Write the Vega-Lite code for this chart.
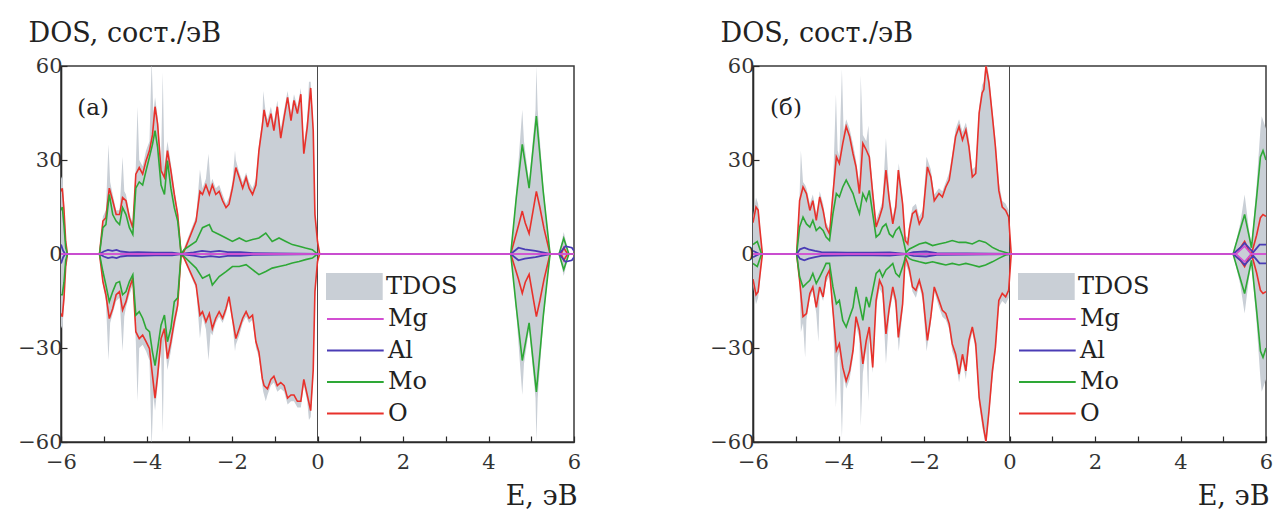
{
"$schema": "https://vega.github.io/schema/vega-lite/v6.json",
"background": "white",
"padding": {"left": 16, "top": 18, "right": 0, "bottom": 0},
"spacing": 126,
"config": {
 "view": {"stroke": "#3a3a3a", "strokeWidth": 1.5},
 "font": "DejaVu Serif",
 "text": {"font": "DejaVu Serif"},
 "axis": {"grid": false, "domainColor": "#2a2a2a", "domainWidth": 1.6, "tickColor": "#2a2a2a", "tickSize": -6, "tickWidth": 1.2, "labelFont": "DejaVu Serif", "labelFontSize": 21, "labelColor": "#333", "labelPadding": 5, "titleFont": "DejaVu Serif", "titleFontSize": 27, "titleFontWeight": "normal", "titleColor": "#222"},
 "axisX": {"labelPadding": 15},
 "legend": {"orient": "none", "symbolSize": 729, "labelFont": "DejaVu Serif", "labelFontSize": 24, "labelColor": "#222", "labelOffset": 33, "rowPadding": 4.5, "padding": 0, "symbolStrokeWidth": 2, "symbolOpacity": 1}
},
"resolve": {"legend": {"fill": "independent", "stroke": "independent"}, "scale": {"fill": "independent", "stroke": "independent"}},
"datasets": {
 "a": [
  {"el":"TDOS","E":-6.00,"u":24,"d":-23},{"el":"TDOS","E":-5.97,"u":25,"d":-24},{"el":"TDOS","E":-5.93,"u":17,"d":-17},{"el":"TDOS","E":-5.89,"u":5,"d":-5},{"el":"TDOS","E":-5.85,"u":0,"d":0},{"el":"TDOS","E":-5.10,"u":0,"d":0},
  {"el":"TDOS","E":-5.02,"u":12,"d":-10},{"el":"TDOS","E":-4.95,"u":14,"d":-15},{"el":"TDOS","E":-4.89,"u":35,"d":-34},{"el":"TDOS","E":-4.85,"u":23,"d":-22},{"el":"TDOS","E":-4.79,"u":19,"d":-19},{"el":"TDOS","E":-4.71,"u":14,"d":-15},{"el":"TDOS","E":-4.63,"u":14,"d":-14},{"el":"TDOS","E":-4.56,"u":31,"d":-31},{"el":"TDOS","E":-4.52,"u":20,"d":-20},{"el":"TDOS","E":-4.48,"u":19,"d":-17},{"el":"TDOS","E":-4.40,"u":13,"d":-13},{"el":"TDOS","E":-4.32,"u":10,"d":-10},{"el":"TDOS","E":-4.25,"u":28,"d":-28},{"el":"TDOS","E":-4.21,"u":47,"d":-47},{"el":"TDOS","E":-4.17,"u":30,"d":-30},{"el":"TDOS","E":-4.09,"u":28,"d":-29},{"el":"TDOS","E":-4.01,"u":33,"d":-31},{"el":"TDOS","E":-3.93,"u":36,"d":-34},{"el":"TDOS","E":-3.88,"u":62,"d":-62},{"el":"TDOS","E":-3.84,"u":45,"d":-45},{"el":"TDOS","E":-3.80,"u":50,"d":-50},{"el":"TDOS","E":-3.74,"u":44,"d":-42},{"el":"TDOS","E":-3.66,"u":29,"d":-30},{"el":"TDOS","E":-3.62,"u":58,"d":-57},{"el":"TDOS","E":-3.58,"u":28,"d":-27},{"el":"TDOS","E":-3.51,"u":36,"d":-37},{"el":"TDOS","E":-3.43,"u":29,"d":-31},{"el":"TDOS","E":-3.35,"u":21,"d":-24},{"el":"TDOS","E":-3.27,"u":14,"d":-18},{"el":"TDOS","E":-3.19,"u":0,"d":0},
  {"el":"TDOS","E":-3.12,"u":2,"d":-2},{"el":"TDOS","E":-2.84,"u":12,"d":-11},{"el":"TDOS","E":-2.75,"u":27,"d":-27},{"el":"TDOS","E":-2.69,"u":21,"d":-20},{"el":"TDOS","E":-2.61,"u":24,"d":-24},{"el":"TDOS","E":-2.55,"u":32,"d":-34},{"el":"TDOS","E":-2.50,"u":22,"d":-25},{"el":"TDOS","E":-2.46,"u":24,"d":-26},{"el":"TDOS","E":-2.38,"u":21,"d":-22},{"el":"TDOS","E":-2.30,"u":22,"d":-20},{"el":"TDOS","E":-2.22,"u":19,"d":-22},{"el":"TDOS","E":-2.14,"u":16,"d":-19},{"el":"TDOS","E":-2.07,"u":18,"d":-15},{"el":"TDOS","E":-1.99,"u":23,"d":-22},{"el":"TDOS","E":-1.93,"u":33,"d":-31},{"el":"TDOS","E":-1.91,"u":30,"d":-29},{"el":"TDOS","E":-1.83,"u":26,"d":-26},{"el":"TDOS","E":-1.75,"u":23,"d":-22},{"el":"TDOS","E":-1.67,"u":26,"d":-20},{"el":"TDOS","E":-1.60,"u":23,"d":-22},{"el":"TDOS","E":-1.52,"u":21,"d":-21},{"el":"TDOS","E":-1.44,"u":24,"d":-30},{"el":"TDOS","E":-1.37,"u":35,"d":-33},{"el":"TDOS","E":-1.29,"u":43,"d":-42},{"el":"TDOS","E":-1.27,"u":52,"d":-44},{"el":"TDOS","E":-1.21,"u":45,"d":-47},{"el":"TDOS","E":-1.17,"u":43,"d":-45},{"el":"TDOS","E":-1.09,"u":47,"d":-42},{"el":"TDOS","E":-1.02,"u":42,"d":-41},{"el":"TDOS","E":-0.94,"u":49,"d":-44},{"el":"TDOS","E":-0.86,"u":40,"d":-43},{"el":"TDOS","E":-0.78,"u":46,"d":-44},{"el":"TDOS","E":-0.70,"u":52,"d":-48},{"el":"TDOS","E":-0.62,"u":45,"d":-47},{"el":"TDOS","E":-0.55,"u":51,"d":-47},{"el":"TDOS","E":-0.47,"u":47,"d":-49},{"el":"TDOS","E":-0.39,"u":53,"d":-49},{"el":"TDOS","E":-0.32,"u":35,"d":-42},{"el":"TDOS","E":-0.24,"u":43,"d":-47},{"el":"TDOS","E":-0.20,"u":55,"d":-53},{"el":"TDOS","E":-0.16,"u":55,"d":-52},{"el":"TDOS","E":-0.10,"u":42,"d":-40},{"el":"TDOS","E":-0.06,"u":15,"d":-14},{"el":"TDOS","E":0.00,"u":5,"d":-4},{"el":"TDOS","E":0.05,"u":0,"d":0},
  {"el":"TDOS","E":4.52,"u":0,"d":0},{"el":"TDOS","E":4.65,"u":20,"d":-19},{"el":"TDOS","E":4.79,"u":46,"d":-45},{"el":"TDOS","E":4.83,"u":36,"d":-35},{"el":"TDOS","E":4.95,"u":23,"d":-24},{"el":"TDOS","E":5.10,"u":46,"d":-46},{"el":"TDOS","E":5.12,"u":60,"d":-60},{"el":"TDOS","E":5.15,"u":46,"d":-46},{"el":"TDOS","E":5.28,"u":22,"d":-22},{"el":"TDOS","E":5.44,"u":0,"d":0},{"el":"TDOS","E":5.65,"u":0,"d":0},{"el":"TDOS","E":5.76,"u":7,"d":-7},{"el":"TDOS","E":5.88,"u":0,"d":0},{"el":"TDOS","E":6.00,"u":0,"d":0},

  {"el":"O","E":-6.00,"u":20,"d":-19},{"el":"O","E":-5.97,"u":21,"d":-20},{"el":"O","E":-5.93,"u":14,"d":-14},{"el":"O","E":-5.89,"u":4,"d":-4},{"el":"O","E":-5.85,"u":0,"d":0},{"el":"O","E":-5.10,"u":0,"d":0},
  {"el":"O","E":-5.02,"u":10.5,"d":-8.8},{"el":"O","E":-4.95,"u":11.6,"d":-13},{"el":"O","E":-4.87,"u":21,"d":-20.6},{"el":"O","E":-4.79,"u":17,"d":-17.4},{"el":"O","E":-4.71,"u":12.6,"d":-13},{"el":"O","E":-4.63,"u":12.6,"d":-12},{"el":"O","E":-4.56,"u":18,"d":-17.9},{"el":"O","E":-4.48,"u":17,"d":-15.2},{"el":"O","E":-4.40,"u":11.6,"d":-10.9},{"el":"O","E":-4.32,"u":8.4,"d":-7.7},{"el":"O","E":-4.25,"u":25.5,"d":-24.8},{"el":"O","E":-4.17,"u":27.6,"d":-27},{"el":"O","E":-4.09,"u":25.5,"d":-25.9},{"el":"O","E":-4.01,"u":29.8,"d":-28},{"el":"O","E":-3.93,"u":33,"d":-30.2},{"el":"O","E":-3.86,"u":38,"d":-38.8},{"el":"O","E":-3.80,"u":47,"d":-46},{"el":"O","E":-3.74,"u":41.5,"d":-38.8},{"el":"O","E":-3.66,"u":26.6,"d":-27},{"el":"O","E":-3.58,"u":24.4,"d":-23.8},{"el":"O","E":-3.51,"u":33,"d":-33.4},{"el":"O","E":-3.43,"u":26.6,"d":-28},{"el":"O","E":-3.35,"u":19,"d":-21.6},{"el":"O","E":-3.27,"u":12.6,"d":-16.3},{"el":"O","E":-3.19,"u":0,"d":0},
  {"el":"O","E":-3.12,"u":0.9,"d":-1.3},{"el":"O","E":-2.84,"u":10.5,"d":-9.9},{"el":"O","E":-2.75,"u":20,"d":-19.5},{"el":"O","E":-2.69,"u":19,"d":-18.4},{"el":"O","E":-2.61,"u":22,"d":-21.6},{"el":"O","E":-2.53,"u":19,"d":-19},{"el":"O","E":-2.46,"u":22,"d":-23.8},{"el":"O","E":-2.38,"u":19,"d":-20.5},{"el":"O","E":-2.30,"u":20,"d":-18.4},{"el":"O","E":-2.22,"u":17,"d":-20.5},{"el":"O","E":-2.14,"u":14.8,"d":-17.4},{"el":"O","E":-2.07,"u":15.9,"d":-13.6},{"el":"O","E":-1.99,"u":21,"d":-20.5},{"el":"O","E":-1.91,"u":27.6,"d":-27},{"el":"O","E":-1.83,"u":24.4,"d":-23.8},{"el":"O","E":-1.75,"u":21,"d":-20.5},{"el":"O","E":-1.67,"u":24.4,"d":-18.4},{"el":"O","E":-1.60,"u":21,"d":-20.5},{"el":"O","E":-1.52,"u":19,"d":-19.5},{"el":"O","E":-1.44,"u":22,"d":-28},{"el":"O","E":-1.37,"u":33,"d":-31.3},{"el":"O","E":-1.29,"u":41,"d":-39.8},{"el":"O","E":-1.25,"u":46,"d":-42},{"el":"O","E":-1.17,"u":40.5,"d":-43},{"el":"O","E":-1.09,"u":44.8,"d":-40},{"el":"O","E":-1.02,"u":39.4,"d":-39},{"el":"O","E":-0.94,"u":47,"d":-42},{"el":"O","E":-0.86,"u":37,"d":-41},{"el":"O","E":-0.78,"u":43.7,"d":-42},{"el":"O","E":-0.70,"u":50,"d":-46},{"el":"O","E":-0.62,"u":42.6,"d":-45},{"el":"O","E":-0.55,"u":49,"d":-45},{"el":"O","E":-0.47,"u":44.8,"d":-47},{"el":"O","E":-0.39,"u":51,"d":-47},{"el":"O","E":-0.32,"u":32,"d":-40},{"el":"O","E":-0.24,"u":40.5,"d":-45},{"el":"O","E":-0.16,"u":53,"d":-50},{"el":"O","E":-0.10,"u":39.4,"d":-37},{"el":"O","E":-0.06,"u":12.6,"d":-12},{"el":"O","E":0.00,"u":4,"d":-2.4},{"el":"O","E":0.05,"u":0,"d":0},
  {"el":"O","E":4.52,"u":0,"d":0},{"el":"O","E":4.70,"u":9,"d":-8},{"el":"O","E":4.79,"u":13.7,"d":-12.5},{"el":"O","E":4.86,"u":9.9,"d":-9},{"el":"O","E":4.95,"u":6.5,"d":-6.5},{"el":"O","E":5.12,"u":20,"d":-20},{"el":"O","E":5.20,"u":15,"d":-15},{"el":"O","E":5.30,"u":8,"d":-8},{"el":"O","E":5.44,"u":0,"d":0},{"el":"O","E":5.70,"u":0,"d":0},{"el":"O","E":5.76,"u":2,"d":-2},{"el":"O","E":5.85,"u":0,"d":0},{"el":"O","E":6.00,"u":0,"d":0},

  {"el":"Mo","E":-6.00,"u":14,"d":-13},{"el":"Mo","E":-5.97,"u":15,"d":-13},{"el":"Mo","E":-5.93,"u":9,"d":-9},{"el":"Mo","E":-5.89,"u":2,"d":-2},{"el":"Mo","E":-5.85,"u":0,"d":0},{"el":"Mo","E":-5.10,"u":0,"d":0},
  {"el":"Mo","E":-5.02,"u":8.4,"d":-5.6},{"el":"Mo","E":-4.95,"u":9.4,"d":-9.9},{"el":"Mo","E":-4.87,"u":19,"d":-15.2},{"el":"Mo","E":-4.79,"u":12.6,"d":-12},{"el":"Mo","E":-4.71,"u":10.5,"d":-9.3},{"el":"Mo","E":-4.63,"u":9.4,"d":-8.8},{"el":"Mo","E":-4.56,"u":14.8,"d":-13},{"el":"Mo","E":-4.48,"u":12.6,"d":-12},{"el":"Mo","E":-4.40,"u":8.4,"d":-8.8},{"el":"Mo","E":-4.32,"u":6.2,"d":-6.6},{"el":"Mo","E":-4.25,"u":21,"d":-19.5},{"el":"Mo","E":-4.17,"u":23,"d":-18.4},{"el":"Mo","E":-4.09,"u":22,"d":-20.5},{"el":"Mo","E":-4.01,"u":26.6,"d":-23.8},{"el":"Mo","E":-3.93,"u":31,"d":-24.8},{"el":"Mo","E":-3.86,"u":35,"d":-31.3},{"el":"Mo","E":-3.80,"u":39.4,"d":-35.6},{"el":"Mo","E":-3.74,"u":34,"d":-30.2},{"el":"Mo","E":-3.66,"u":22,"d":-22.7},{"el":"Mo","E":-3.58,"u":19,"d":-19.5},{"el":"Mo","E":-3.51,"u":29.8,"d":-28},{"el":"Mo","E":-3.43,"u":21,"d":-23.8},{"el":"Mo","E":-3.35,"u":14.8,"d":-15.2},{"el":"Mo","E":-3.27,"u":10.5,"d":-14},{"el":"Mo","E":-3.19,"u":0,"d":0},
  {"el":"Mo","E":-3.12,"u":1.4,"d":-0.8},{"el":"Mo","E":-2.84,"u":4,"d":-4.5},{"el":"Mo","E":-2.69,"u":8.4,"d":-7.7},{"el":"Mo","E":-2.53,"u":9.4,"d":-6.6},{"el":"Mo","E":-2.46,"u":7.3,"d":-9.9},{"el":"Mo","E":-2.30,"u":6.2,"d":-7.2},{"el":"Mo","E":-2.14,"u":5.1,"d":-5.6},{"el":"Mo","E":-1.99,"u":4,"d":-4},{"el":"Mo","E":-1.83,"u":5.1,"d":-4},{"el":"Mo","E":-1.67,"u":4,"d":-3.4},{"el":"Mo","E":-1.52,"u":4.6,"d":-5},{"el":"Mo","E":-1.37,"u":5.1,"d":-6.6},{"el":"Mo","E":-1.21,"u":6.7,"d":-5.6},{"el":"Mo","E":-1.06,"u":4,"d":-4.5},{"el":"Mo","E":-0.90,"u":5.1,"d":-4},{"el":"Mo","E":-0.74,"u":4,"d":-3.5},{"el":"Mo","E":-0.59,"u":3,"d":-2.9},{"el":"Mo","E":-0.43,"u":2.5,"d":-2.4},{"el":"Mo","E":-0.28,"u":1.9,"d":-1.8},{"el":"Mo","E":-0.12,"u":1.4,"d":-1.3},{"el":"Mo","E":0.00,"u":0,"d":0},
  {"el":"Mo","E":4.52,"u":0,"d":0},{"el":"Mo","E":4.65,"u":18,"d":-17},{"el":"Mo","E":4.79,"u":35,"d":-34},{"el":"Mo","E":4.95,"u":21,"d":-22},{"el":"Mo","E":5.12,"u":44,"d":-44},{"el":"Mo","E":5.28,"u":20,"d":-20},{"el":"Mo","E":5.44,"u":0,"d":0},{"el":"Mo","E":5.65,"u":0,"d":0},{"el":"Mo","E":5.76,"u":5,"d":-5},{"el":"Mo","E":5.88,"u":0,"d":0},{"el":"Mo","E":6.00,"u":0,"d":0},

  {"el":"Al","E":-6.00,"u":3,"d":-3},{"el":"Al","E":-5.95,"u":1,"d":-1},{"el":"Al","E":-5.90,"u":0,"d":0},{"el":"Al","E":-5.10,"u":0,"d":0},{"el":"Al","E":-5.00,"u":0.8,"d":-0.8},{"el":"Al","E":-4.90,"u":1.3,"d":-1.3},{"el":"Al","E":-4.80,"u":1.0,"d":-1.0},{"el":"Al","E":-4.70,"u":1.3,"d":-1.3},{"el":"Al","E":-4.60,"u":0.8,"d":-0.8},{"el":"Al","E":-4.40,"u":0.5,"d":-0.5},{"el":"Al","E":-4.20,"u":0.6,"d":-0.6},{"el":"Al","E":-3.80,"u":0.4,"d":-0.4},{"el":"Al","E":-3.40,"u":0.4,"d":-0.4},{"el":"Al","E":-3.19,"u":0,"d":0},{"el":"Al","E":-2.90,"u":0.5,"d":-0.5},{"el":"Al","E":-2.70,"u":1.0,"d":-1.0},{"el":"Al","E":-2.50,"u":0.7,"d":-0.7},{"el":"Al","E":-2.30,"u":1.0,"d":-1.0},{"el":"Al","E":-2.10,"u":0.6,"d":-0.6},{"el":"Al","E":-1.80,"u":0.6,"d":-0.6},{"el":"Al","E":-1.50,"u":0.3,"d":-0.3},{"el":"Al","E":-1.00,"u":0.2,"d":-0.2},{"el":"Al","E":0.00,"u":0,"d":0},{"el":"Al","E":4.52,"u":0,"d":0},{"el":"Al","E":4.70,"u":2,"d":-2},{"el":"Al","E":4.85,"u":1.5,"d":-1.5},{"el":"Al","E":5.10,"u":1,"d":-1},{"el":"Al","E":5.44,"u":0,"d":0},{"el":"Al","E":5.65,"u":0,"d":0},{"el":"Al","E":5.80,"u":2.5,"d":-2.5},{"el":"Al","E":5.95,"u":2,"d":-2},{"el":"Al","E":6.00,"u":1,"d":-1},

  {"el":"Mg","E":-6.00,"u":0,"d":0},{"el":"Mg","E":6.00,"u":0,"d":0}
 ],
 "b": [
  {"el":"TDOS","E":-6.00,"u":12,"d":-10},{"el":"TDOS","E":-5.93,"u":18,"d":-16},{"el":"TDOS","E":-5.88,"u":16,"d":-14},{"el":"TDOS","E":-5.84,"u":10,"d":-9},{"el":"TDOS","E":-5.78,"u":0,"d":0},{"el":"TDOS","E":-4.98,"u":0,"d":0},
  {"el":"TDOS","E":-4.91,"u":19,"d":-10},{"el":"TDOS","E":-4.88,"u":33,"d":-25},{"el":"TDOS","E":-4.83,"u":23,"d":-22},{"el":"TDOS","E":-4.78,"u":22,"d":-33},{"el":"TDOS","E":-4.75,"u":21,"d":-21},{"el":"TDOS","E":-4.67,"u":16,"d":-14},{"el":"TDOS","E":-4.60,"u":19,"d":-12},{"el":"TDOS","E":-4.52,"u":13,"d":-19},{"el":"TDOS","E":-4.47,"u":16,"d":-28},{"el":"TDOS","E":-4.44,"u":20,"d":-12},{"el":"TDOS","E":-4.36,"u":16,"d":-15},{"el":"TDOS","E":-4.29,"u":10,"d":-9},{"el":"TDOS","E":-4.21,"u":8,"d":-7},{"el":"TDOS","E":-4.13,"u":21,"d":-20},{"el":"TDOS","E":-4.06,"u":51,"d":-49},{"el":"TDOS","E":-4.02,"u":33,"d":-33},{"el":"TDOS","E":-3.98,"u":31,"d":-31},{"el":"TDOS","E":-3.92,"u":59,"d":-58.7},{"el":"TDOS","E":-3.88,"u":39,"d":-39},{"el":"TDOS","E":-3.82,"u":43,"d":-43},{"el":"TDOS","E":-3.74,"u":40,"d":-40},{"el":"TDOS","E":-3.66,"u":35,"d":-33},{"el":"TDOS","E":-3.59,"u":30,"d":-23},{"el":"TDOS","E":-3.51,"u":22,"d":-27},{"el":"TDOS","E":-3.48,"u":57,"d":-55},{"el":"TDOS","E":-3.43,"u":38,"d":-38},{"el":"TDOS","E":-3.35,"u":36,"d":-30},{"el":"TDOS","E":-3.30,"u":41,"d":-47},{"el":"TDOS","E":-3.28,"u":34,"d":-26},{"el":"TDOS","E":-3.20,"u":22,"d":-38},{"el":"TDOS","E":-3.12,"u":11,"d":-17},{"el":"TDOS","E":-3.04,"u":14,"d":-11},{"el":"TDOS","E":-2.97,"u":17,"d":-13},{"el":"TDOS","E":-2.89,"u":37,"d":-35},{"el":"TDOS","E":-2.81,"u":19,"d":-19},{"el":"TDOS","E":-2.73,"u":12,"d":-13},{"el":"TDOS","E":-2.66,"u":17,"d":-17},{"el":"TDOS","E":-2.59,"u":29,"d":-31},{"el":"TDOS","E":-2.50,"u":18,"d":-18},{"el":"TDOS","E":-2.44,"u":6,"d":-3},{"el":"TDOS","E":-2.38,"u":5,"d":-5},{"el":"TDOS","E":-2.34,"u":10,"d":-7},{"el":"TDOS","E":-2.27,"u":15,"d":-12},{"el":"TDOS","E":-2.19,"u":16,"d":-14},{"el":"TDOS","E":-2.11,"u":12,"d":-10},{"el":"TDOS","E":-2.03,"u":14,"d":-15},{"el":"TDOS","E":-1.94,"u":31,"d":-31},{"el":"TDOS","E":-1.84,"u":27,"d":-22},{"el":"TDOS","E":-1.76,"u":19,"d":-12},{"el":"TDOS","E":-1.65,"u":21,"d":-17},{"el":"TDOS","E":-1.57,"u":20,"d":-20},{"el":"TDOS","E":-1.49,"u":23,"d":-21},{"el":"TDOS","E":-1.41,"u":26,"d":-24},{"el":"TDOS","E":-1.34,"u":32,"d":-31},{"el":"TDOS","E":-1.26,"u":40,"d":-34},{"el":"TDOS","E":-1.18,"u":43,"d":-41},{"el":"TDOS","E":-1.10,"u":39,"d":-34},{"el":"TDOS","E":-1.02,"u":42,"d":-40},{"el":"TDOS","E":-0.95,"u":37,"d":-30},{"el":"TDOS","E":-0.87,"u":27,"d":-25},{"el":"TDOS","E":-0.79,"u":28,"d":-31},{"el":"TDOS","E":-0.71,"u":47,"d":-48},{"el":"TDOS","E":-0.64,"u":54,"d":-55},{"el":"TDOS","E":-0.60,"u":55,"d":-58},{"el":"TDOS","E":-0.55,"u":62,"d":-62},{"el":"TDOS","E":-0.48,"u":57,"d":-52},{"el":"TDOS","E":-0.40,"u":46,"d":-40},{"el":"TDOS","E":-0.33,"u":37,"d":-32},{"el":"TDOS","E":-0.25,"u":23,"d":-17},{"el":"TDOS","E":-0.17,"u":17,"d":-15},{"el":"TDOS","E":-0.09,"u":16,"d":-16},{"el":"TDOS","E":-0.02,"u":14,"d":-14},{"el":"TDOS","E":0.04,"u":0,"d":0},
  {"el":"TDOS","E":5.23,"u":0,"d":0},{"el":"TDOS","E":5.40,"u":10,"d":-10},{"el":"TDOS","E":5.50,"u":19,"d":-19},{"el":"TDOS","E":5.60,"u":8,"d":-8},{"el":"TDOS","E":5.66,"u":3,"d":-3},{"el":"TDOS","E":5.78,"u":22,"d":-22},{"el":"TDOS","E":5.87,"u":40,"d":-40},{"el":"TDOS","E":5.90,"u":44,"d":-44},{"el":"TDOS","E":6.00,"u":40,"d":-40},

  {"el":"O","E":-6.00,"u":10,"d":-8},{"el":"O","E":-5.93,"u":15,"d":-13},{"el":"O","E":-5.88,"u":14,"d":-12},{"el":"O","E":-5.84,"u":8,"d":-7},{"el":"O","E":-5.78,"u":0,"d":0},{"el":"O","E":-4.98,"u":0,"d":0},
  {"el":"O","E":-4.91,"u":17,"d":-8.4},{"el":"O","E":-4.83,"u":21.4,"d":-20},{"el":"O","E":-4.75,"u":19.3,"d":-19},{"el":"O","E":-4.67,"u":13.9,"d":-12.6},{"el":"O","E":-4.60,"u":17,"d":-10.5},{"el":"O","E":-4.52,"u":10.7,"d":-17},{"el":"O","E":-4.44,"u":18.2,"d":-10.5},{"el":"O","E":-4.36,"u":13.9,"d":-13.7},{"el":"O","E":-4.29,"u":8.6,"d":-7.3},{"el":"O","E":-4.21,"u":6.4,"d":-5.1},{"el":"O","E":-4.13,"u":19.3,"d":-18},{"el":"O","E":-4.05,"u":31,"d":-30.8},{"el":"O","E":-3.98,"u":28.9,"d":-28.7},{"el":"O","E":-3.90,"u":35.3,"d":-36.2},{"el":"O","E":-3.82,"u":40.7,"d":-40.5},{"el":"O","E":-3.74,"u":37.5,"d":-37.3},{"el":"O","E":-3.66,"u":32,"d":-30.8},{"el":"O","E":-3.59,"u":27.8,"d":-20},{"el":"O","E":-3.51,"u":19.3,"d":-24.4},{"el":"O","E":-3.43,"u":35.3,"d":-35.1},{"el":"O","E":-3.35,"u":33.2,"d":-27.6},{"el":"O","E":-3.28,"u":31,"d":-23.3},{"el":"O","E":-3.20,"u":19.3,"d":-36.2},{"el":"O","E":-3.12,"u":8.6,"d":-14.8},{"el":"O","E":-3.04,"u":11.8,"d":-8.4},{"el":"O","E":-2.97,"u":15,"d":-10.5},{"el":"O","E":-2.89,"u":26.8,"d":-25.5},{"el":"O","E":-2.81,"u":17,"d":-17},{"el":"O","E":-2.73,"u":9.6,"d":-10.5},{"el":"O","E":-2.66,"u":15,"d":-14.8},{"el":"O","E":-2.60,"u":26.8,"d":-26.6},{"el":"O","E":-2.50,"u":16,"d":-15.9},{"el":"O","E":-2.44,"u":4.3,"d":-0.9},{"el":"O","E":-2.38,"u":3.2,"d":-3},{"el":"O","E":-2.34,"u":8,"d":-5.1},{"el":"O","E":-2.27,"u":12.9,"d":-10.5},{"el":"O","E":-2.19,"u":13.9,"d":-11.6},{"el":"O","E":-2.11,"u":9.6,"d":-8.4},{"el":"O","E":-2.03,"u":11.8,"d":-12.6},{"el":"O","E":-1.92,"u":27.8,"d":-27.6},{"el":"O","E":-1.84,"u":24.6,"d":-20},{"el":"O","E":-1.76,"u":17,"d":-10.5},{"el":"O","E":-1.65,"u":19.3,"d":-14.8},{"el":"O","E":-1.57,"u":18.2,"d":-18},{"el":"O","E":-1.49,"u":21.4,"d":-19},{"el":"O","E":-1.41,"u":23.6,"d":-22.3},{"el":"O","E":-1.34,"u":30,"d":-28.7},{"el":"O","E":-1.26,"u":37.5,"d":-32},{"el":"O","E":-1.18,"u":40.7,"d":-38.3},{"el":"O","E":-1.10,"u":36.4,"d":-32},{"el":"O","E":-1.02,"u":39.6,"d":-37.3},{"el":"O","E":-0.95,"u":34.3,"d":-27.6},{"el":"O","E":-0.87,"u":24.6,"d":-23.3},{"el":"O","E":-0.79,"u":25.7,"d":-28.7},{"el":"O","E":-0.71,"u":45,"d":-45.8},{"el":"O","E":-0.64,"u":51.4,"d":-52.3},{"el":"O","E":-0.60,"u":52.5,"d":-56},{"el":"O","E":-0.55,"u":60,"d":-59.8},{"el":"O","E":-0.48,"u":54.6,"d":-50.1},{"el":"O","E":-0.40,"u":43.9,"d":-37.3},{"el":"O","E":-0.33,"u":34.3,"d":-29.8},{"el":"O","E":-0.25,"u":20.3,"d":-14.8},{"el":"O","E":-0.17,"u":15,"d":-12.6},{"el":"O","E":-0.09,"u":13.9,"d":-13.7},{"el":"O","E":-0.02,"u":11.8,"d":-11.6},{"el":"O","E":0.04,"u":0,"d":0},
  {"el":"O","E":5.23,"u":0,"d":0},{"el":"O","E":5.40,"u":2,"d":-2},{"el":"O","E":5.50,"u":4,"d":-4},{"el":"O","E":5.60,"u":1,"d":-1},{"el":"O","E":5.66,"u":0,"d":0},{"el":"O","E":5.78,"u":6,"d":-6},{"el":"O","E":5.87,"u":11.6,"d":-11.6},{"el":"O","E":5.93,"u":12.6,"d":-12.6},{"el":"O","E":6.00,"u":12,"d":-12},

  {"el":"Mo","E":-6.00,"u":3,"d":-3},{"el":"Mo","E":-5.90,"u":4,"d":-4},{"el":"Mo","E":-5.80,"u":0,"d":0},{"el":"Mo","E":-4.98,"u":0,"d":0},
  {"el":"Mo","E":-4.91,"u":8.6,"d":-7.3},{"el":"Mo","E":-4.83,"u":11.8,"d":-10.5},{"el":"Mo","E":-4.75,"u":9.6,"d":-9.4},{"el":"Mo","E":-4.67,"u":8.6,"d":-8.4},{"el":"Mo","E":-4.60,"u":10.7,"d":-6.2},{"el":"Mo","E":-4.52,"u":7.5,"d":-9.4},{"el":"Mo","E":-4.44,"u":8.6,"d":-7.3},{"el":"Mo","E":-4.36,"u":7.5,"d":-5.1},{"el":"Mo","E":-4.29,"u":5.4,"d":-3},{"el":"Mo","E":-4.21,"u":4.3,"d":-3},{"el":"Mo","E":-4.13,"u":12.9,"d":-10.5},{"el":"Mo","E":-4.05,"u":19.3,"d":-15.9},{"el":"Mo","E":-3.98,"u":18.2,"d":-14.8},{"el":"Mo","E":-3.90,"u":21.4,"d":-21.2},{"el":"Mo","E":-3.82,"u":23.6,"d":-23.3},{"el":"Mo","E":-3.74,"u":21.4,"d":-20},{"el":"Mo","E":-3.66,"u":19.3,"d":-17},{"el":"Mo","E":-3.59,"u":16,"d":-10.5},{"el":"Mo","E":-3.51,"u":12.9,"d":-15.9},{"el":"Mo","E":-3.43,"u":19.3,"d":-21.2},{"el":"Mo","E":-3.35,"u":17,"d":-13.7},{"el":"Mo","E":-3.28,"u":20.3,"d":-17},{"el":"Mo","E":-3.20,"u":12.9,"d":-11.6},{"el":"Mo","E":-3.12,"u":5.4,"d":-6.2},{"el":"Mo","E":-3.04,"u":6.4,"d":-5.1},{"el":"Mo","E":-2.97,"u":8.6,"d":-7.3},{"el":"Mo","E":-2.89,"u":9.6,"d":-5.1},{"el":"Mo","E":-2.81,"u":6.4,"d":-4.1},{"el":"Mo","E":-2.73,"u":5.4,"d":-3},{"el":"Mo","E":-2.66,"u":7.5,"d":-6.2},{"el":"Mo","E":-2.58,"u":8.6,"d":-7.3},{"el":"Mo","E":-2.50,"u":5.4,"d":-4.1},{"el":"Mo","E":-2.42,"u":0.5,"d":-0.3},{"el":"Mo","E":-2.34,"u":1.6,"d":-1.5},{"el":"Mo","E":-2.27,"u":2.1,"d":-1.9},{"el":"Mo","E":-2.11,"u":3.2,"d":-2.5},{"el":"Mo","E":-1.96,"u":3.7,"d":-3},{"el":"Mo","E":-1.80,"u":2.7,"d":-2.5},{"el":"Mo","E":-1.65,"u":3.2,"d":-3},{"el":"Mo","E":-1.49,"u":3.7,"d":-3.5},{"el":"Mo","E":-1.34,"u":4.3,"d":-3},{"el":"Mo","E":-1.18,"u":3.7,"d":-3.5},{"el":"Mo","E":-1.02,"u":3.7,"d":-3},{"el":"Mo","E":-0.87,"u":3.2,"d":-3.5},{"el":"Mo","E":-0.71,"u":4.3,"d":-4.1},{"el":"Mo","E":-0.56,"u":3.7,"d":-3.5},{"el":"Mo","E":-0.40,"u":2.1,"d":-2.5},{"el":"Mo","E":-0.25,"u":1.1,"d":-1.4},{"el":"Mo","E":-0.09,"u":0.5,"d":-0.3},{"el":"Mo","E":0.04,"u":0,"d":0},
  {"el":"Mo","E":5.23,"u":0,"d":0},{"el":"Mo","E":5.38,"u":7,"d":-7},{"el":"Mo","E":5.50,"u":12.6,"d":-12.6},{"el":"Mo","E":5.60,"u":6,"d":-6},{"el":"Mo","E":5.66,"u":2,"d":-2},{"el":"Mo","E":5.78,"u":18,"d":-18},{"el":"Mo","E":5.87,"u":31,"d":-31},{"el":"Mo","E":5.93,"u":33,"d":-33},{"el":"Mo","E":6.00,"u":30,"d":-30},

  {"el":"Al","E":-6.00,"u":1,"d":-1},{"el":"Al","E":-5.85,"u":0,"d":0},{"el":"Al","E":-4.98,"u":0,"d":0},{"el":"Al","E":-4.90,"u":1.5,"d":-1.5},{"el":"Al","E":-4.80,"u":2,"d":-2},{"el":"Al","E":-4.70,"u":1.5,"d":-1.5},{"el":"Al","E":-4.55,"u":1,"d":-1},{"el":"Al","E":-4.40,"u":0.6,"d":-0.6},{"el":"Al","E":-3.80,"u":0.4,"d":-0.4},{"el":"Al","E":-3.20,"u":0.4,"d":-0.4},{"el":"Al","E":-2.80,"u":0.5,"d":-0.5},{"el":"Al","E":-2.42,"u":0,"d":0},{"el":"Al","E":-2.25,"u":0.6,"d":-0.6},{"el":"Al","E":-1.95,"u":0.8,"d":-0.8},{"el":"Al","E":-1.70,"u":0.3,"d":-0.3},{"el":"Al","E":-1.00,"u":0.2,"d":-0.2},{"el":"Al","E":0.04,"u":0,"d":0},{"el":"Al","E":5.23,"u":0,"d":0},{"el":"Al","E":5.40,"u":2,"d":-2},{"el":"Al","E":5.50,"u":3.5,"d":-3.5},{"el":"Al","E":5.60,"u":2,"d":-2},{"el":"Al","E":5.70,"u":0.5,"d":-0.5},{"el":"Al","E":5.85,"u":3,"d":-3},{"el":"Al","E":6.00,"u":3,"d":-3},

  {"el":"Mg","E":-6.00,"u":0,"d":0},{"el":"Mg","E":5.30,"u":0,"d":0},{"el":"Mg","E":5.50,"u":2.5,"d":-2.5},{"el":"Mg","E":5.65,"u":0,"d":0},{"el":"Mg","E":6.00,"u":0,"d":0}
 ]
},
"hconcat": [
 {
  "width": 513, "height": 376,
  "data": {"name": "a"},
  "layer": [
   {"transform": [{"filter": "datum.el === 'TDOS'"}],
    "mark": {"type": "area", "clip": true, "opacity": 1},
    "encoding": {
     "x": {"field": "E", "type": "quantitative", "scale": {"domain": [-6, 6], "nice": false, "zero": false},
      "axis": {"values": [-6,-5,-4,-3,-2,-1,0,1,2,3,4,5,6], "labelExpr": "datum.value % 2 === 0 ? datum.label : ''", "title": "E, эВ", "titleAnchor": "end", "titleAlign": "right", "titleBaseline": "alphabetic", "titleX": 516, "titleY": 62, "labelFlush": false}},
     "y": {"field": "u", "type": "quantitative", "scale": {"domain": [-60, 60], "nice": false, "zero": false},
      "axis": {"values": [-60,-30,0,30,60], "title": "DOS, сост./эВ", "titleAngle": 0, "titleAlign": "left", "titleBaseline": "alphabetic", "titleX": -33, "titleY": -25, "labelFlush": false}},
     "y2": {"field": "d"},
     "fill": {"field": "el", "type": "nominal", "scale": {"domain": ["TDOS"], "range": ["#c9cfd6"]},
      "legend": {"title": null, "legendX": 265, "legendY": 207, "symbolType": "M-1,-1H3.2V1H-1Z", "symbolStrokeWidth": 0}}
    }},
   {"data": {"values": [{}]}, "mark": {"type": "rule", "color": "#4a4a4a", "strokeWidth": 1}, "encoding": {"x": {"datum": 0}}},
   {"transform": [{"filter": "datum.el === 'O'"}, {"fold": ["u", "d"], "as": ["s", "v"]}],
    "mark": {"type": "line", "clip": true, "strokeWidth": 1.6},
    "encoding": {"x": {"field": "E", "type": "quantitative"}, "y": {"field": "v", "type": "quantitative"}, "detail": {"field": "s"},
     "stroke": {"field": "el", "type": "nominal", "scale": {"domain": ["Mg","Al","Mo","O"], "range": ["#d24fd2","#4a3cb5","#2ea836","#e8312b"]},
      "legend": {"title": null, "legendX": 265, "legendY": 238.5, "symbolType": "M-1,0H3.2", "symbolStrokeWidth": 2}}}},
   {"transform": [{"filter": "datum.el === 'Mo'"}, {"fold": ["u", "d"], "as": ["s", "v"]}],
    "mark": {"type": "line", "clip": true, "strokeWidth": 1.6},
    "encoding": {"x": {"field": "E", "type": "quantitative"}, "y": {"field": "v", "type": "quantitative"}, "detail": {"field": "s"}, "stroke": {"field": "el", "type": "nominal"}}},
   {"transform": [{"filter": "datum.el === 'Al'"}, {"fold": ["u", "d"], "as": ["s", "v"]}],
    "mark": {"type": "line", "clip": true, "strokeWidth": 1.8},
    "encoding": {"x": {"field": "E", "type": "quantitative"}, "y": {"field": "v", "type": "quantitative"}, "detail": {"field": "s"}, "stroke": {"field": "el", "type": "nominal"}}},
   {"transform": [{"filter": "datum.el === 'Mg'"}, {"fold": ["u", "d"], "as": ["s", "v"]}],
    "mark": {"type": "line", "clip": true, "strokeWidth": 1.5},
    "encoding": {"x": {"field": "E", "type": "quantitative"}, "y": {"field": "v", "type": "quantitative"}, "detail": {"field": "s"}, "stroke": {"field": "el", "type": "nominal"}}},
   {"data": {"values": [{}]}, "mark": {"type": "text", "text": "(а)", "font": "DejaVu Serif", "fontSize": 23, "align": "left", "baseline": "middle", "color": "#222"},
    "encoding": {"x": {"datum": -5.62}, "y": {"datum": 46.5}}}
  ]
 },
 {
  "width": 513, "height": 376,
  "data": {"name": "b"},
  "layer": [
   {"transform": [{"filter": "datum.el === 'TDOS'"}],
    "mark": {"type": "area", "clip": true, "opacity": 1},
    "encoding": {
     "x": {"field": "E", "type": "quantitative", "scale": {"domain": [-6, 6], "nice": false, "zero": false},
      "axis": {"values": [-6,-5,-4,-3,-2,-1,0,1,2,3,4,5,6], "labelExpr": "datum.value % 2 === 0 ? datum.label : ''", "title": "E, эВ", "titleAnchor": "end", "titleAlign": "right", "titleBaseline": "alphabetic", "titleX": 516, "titleY": 62, "labelFlush": false}},
     "y": {"field": "u", "type": "quantitative", "scale": {"domain": [-60, 60], "nice": false, "zero": false},
      "axis": {"values": [-60,-30,0,30,60], "title": "DOS, сост./эВ", "titleAngle": 0, "titleAlign": "left", "titleBaseline": "alphabetic", "titleX": -33, "titleY": -25, "labelFlush": false}},
     "y2": {"field": "d"},
     "fill": {"field": "el", "type": "nominal", "scale": {"domain": ["TDOS"], "range": ["#c9cfd6"]},
      "legend": {"title": null, "legendX": 265, "legendY": 207, "symbolType": "M-1,-1H3.2V1H-1Z", "symbolStrokeWidth": 0}}
    }},
   {"data": {"values": [{}]}, "mark": {"type": "rule", "color": "#4a4a4a", "strokeWidth": 1}, "encoding": {"x": {"datum": 0}}},
   {"transform": [{"filter": "datum.el === 'O'"}, {"fold": ["u", "d"], "as": ["s", "v"]}],
    "mark": {"type": "line", "clip": true, "strokeWidth": 1.6},
    "encoding": {"x": {"field": "E", "type": "quantitative"}, "y": {"field": "v", "type": "quantitative"}, "detail": {"field": "s"},
     "stroke": {"field": "el", "type": "nominal", "scale": {"domain": ["Mg","Al","Mo","O"], "range": ["#d24fd2","#4a3cb5","#2ea836","#e8312b"]},
      "legend": {"title": null, "legendX": 265, "legendY": 238.5, "symbolType": "M-1,0H3.2", "symbolStrokeWidth": 2}}}},
   {"transform": [{"filter": "datum.el === 'Mo'"}, {"fold": ["u", "d"], "as": ["s", "v"]}],
    "mark": {"type": "line", "clip": true, "strokeWidth": 1.6},
    "encoding": {"x": {"field": "E", "type": "quantitative"}, "y": {"field": "v", "type": "quantitative"}, "detail": {"field": "s"}, "stroke": {"field": "el", "type": "nominal"}}},
   {"transform": [{"filter": "datum.el === 'Al'"}, {"fold": ["u", "d"], "as": ["s", "v"]}],
    "mark": {"type": "line", "clip": true, "strokeWidth": 1.8},
    "encoding": {"x": {"field": "E", "type": "quantitative"}, "y": {"field": "v", "type": "quantitative"}, "detail": {"field": "s"}, "stroke": {"field": "el", "type": "nominal"}}},
   {"transform": [{"filter": "datum.el === 'Mg'"}, {"fold": ["u", "d"], "as": ["s", "v"]}],
    "mark": {"type": "line", "clip": true, "strokeWidth": 1.5},
    "encoding": {"x": {"field": "E", "type": "quantitative"}, "y": {"field": "v", "type": "quantitative"}, "detail": {"field": "s"}, "stroke": {"field": "el", "type": "nominal"}}},
   {"data": {"values": [{}]}, "mark": {"type": "text", "text": "(б)", "font": "DejaVu Serif", "fontSize": 23, "align": "left", "baseline": "middle", "color": "#222"},
    "encoding": {"x": {"datum": -5.6}, "y": {"datum": 46.5}}}
  ]
 }
]
}
